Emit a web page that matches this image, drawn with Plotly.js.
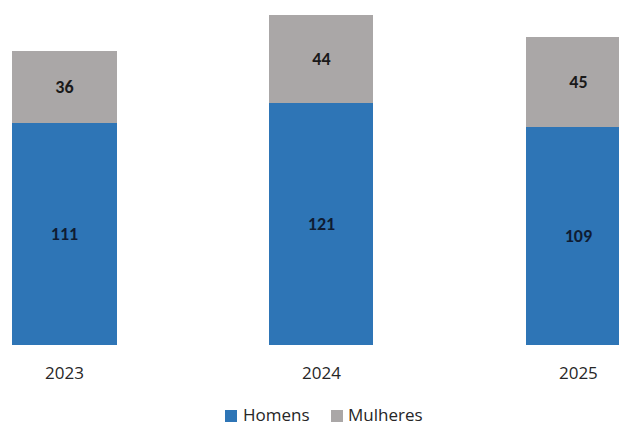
<!DOCTYPE html>
<html><head><meta charset="utf-8">
<script src="https://cdn.plot.ly/plotly-3.0.1.min.js"></script>
<style>html,body{margin:0;padding:0;background:#fff;}#chart{width:619px;height:427px;}</style>
</head><body><div id="chart"></div>
<script>
const years = ["2023", "2024", "2025"];
const seriesNames = ["Homens", "Mulheres"];
const homens = [111, 121, 109];
const mulheres = [36, 44, 45];
const colors = ["#2E75B6", "#AAA7A7"];

const labelFont = {family: "Carlito, Calibri, 'Liberation Sans', sans-serif", size: 18, color: "#1a1a1a", weight: 700};
const traces = [
  {type: "bar", name: seriesNames[0], x: years, y: homens, marker: {color: colors[0]},
   text: homens.map(String), textposition: "inside", insidetextanchor: "middle",
   textfont: Object.assign({}, labelFont, {color: "#0f1c33"}), width: 0.405, hoverinfo: "none"},
  {type: "bar", name: seriesNames[1], x: years, y: mulheres, marker: {color: colors[1]},
   text: mulheres.map(String), textposition: "inside", insidetextanchor: "middle",
   textfont: labelFont, width: 0.405, hoverinfo: "none"}
];

// custom legend (paper coordinates)
const W = 619, plotBottom = 345, plotH = 340;
const py = px => (plotBottom - px) / plotH;
const legendItems = [{sq: 225, tx: 242}, {sq: 331, tx: 347}];
const legendTextCy = 414.5, legendSqCy = 416;
const shapes = legendItems.map((it, i) => ({
  type: "rect", xref: "paper", yref: "paper",
  x0: it.sq / W, x1: (it.sq + 12) / W, y0: py(legendSqCy - 6), y1: py(legendSqCy + 6),
  fillcolor: colors[i], line: {width: 0}
}));
const annotations = legendItems.map((it, i) => ({
  xref: "paper", yref: "paper", x: it.tx / W, y: py(legendTextCy), xanchor: "left", yanchor: "middle",
  text: seriesNames[i], showarrow: false, borderpad: 0,
  font: {size: 17, color: "#262626"}
}));

const layout = {
  width: 619, height: 427, barmode: "stack",
  margin: {l: 0, r: 0, t: 5, b: 82, autoexpand: false},
  paper_bgcolor: "#fff", plot_bgcolor: "#fff",
  font: {family: "'Open Sans', 'Noto Sans', sans-serif", color: "#262626"},
  xaxis: {type: "category", range: [-0.251, 2.158], showgrid: false, zeroline: false, showline: false,
          ticks: "", tickfont: {size: 17, color: "#262626"}, ticklabelstandoff: 16, automargin: false},
  yaxis: {range: [0, 170], visible: false, showgrid: false, zeroline: false, automargin: false},
  showlegend: false,
  shapes: shapes,
  annotations: annotations,
  uniformtext: {mode: "show", minsize: 10}
};
Plotly.newPlot("chart", traces, layout, {staticPlot: true, displayModeBar: false});
</script></body></html>
